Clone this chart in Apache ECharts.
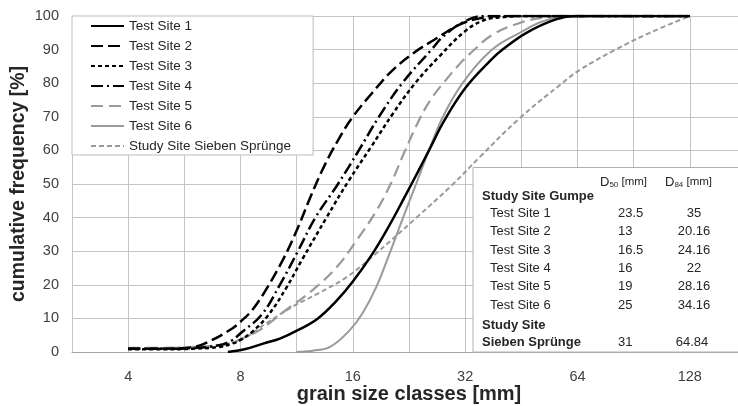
<!DOCTYPE html>
<html><head><meta charset="utf-8">
<script src="https://cdn.jsdelivr.net/npm/echarts@6/dist/echarts.min.js"></script>
<style>html,body{margin:0;padding:0;background:#fff}#c{width:738px;height:406px}</style>
</head><body><div id="c"></div>
<script>
// ---------- data ----------
const seriesNames = ['Test Site 1', 'Test Site 2', 'Test Site 3', 'Test Site 4', 'Test Site 5', 'Test Site 6', 'Study Site Sieben Sprünge'];

const site1X = [7.4, 8.2, 9.2, 10.2, 11.4, 12.9, 14.4, 16, 18, 20, 22, 24, 26, 28, 32, 37.6, 40.3, 46.7, 56, 63.5, 128];
const site1Y = [0, 0.8, 2.5, 4, 6.5, 10, 15, 21, 29, 37.5, 46, 54, 61.5, 68.5, 78.5, 87, 90, 95, 99, 100, 100];

const site2X = [4, 5, 6, 6.7, 7.6, 8, 8.6, 9.3, 10.4, 11.3, 12.2, 13.3, 14.6, 16, 18, 20.3, 23.3, 26.5, 31, 35, 40, 128];
const site2Y = [1, 1, 1.5, 3.5, 7, 9, 12.5, 18, 27.5, 36, 45, 54.5, 63, 70, 77, 83.5, 89, 93, 97.5, 99.3, 100, 100];

const site3X = [4, 5, 6, 7, 7.6, 8, 8.6, 9.5, 10.6, 11.7, 13.6, 15.6, 17.9, 20.5, 23.5, 27.3, 32, 36, 40, 45, 128];
const site3Y = [0.8, 0.8, 1, 1.5, 2.5, 3.6, 6, 11, 19, 27.5, 40, 51, 61, 71, 80, 88, 95.5, 98.8, 99.6, 100, 100];

const site4X = [4, 5, 6, 7, 7.6, 8, 9.1, 10.2, 11.4, 12.7, 14.6, 16.6, 18.8, 21.7, 26, 28, 32, 36, 128];
const site4Y = [1, 1, 1.2, 2, 3.5, 5.6, 11, 20, 30, 40, 50, 60, 70, 80, 90, 94, 98.5, 100, 100];

const site5X = [4, 5, 6, 7, 7.6, 8, 9, 10.6, 12.5, 14.5, 16.4, 18.5, 20.3, 21.9, 24.2, 26, 28.2, 30.5, 33.5, 38, 45, 52, 60, 128];
const site5Y = [1.2, 1.2, 1.5, 2, 2.7, 3.8, 6.5, 12.5, 18.5, 25.3, 33.3, 42, 50.5, 59, 69.5, 75.5, 80.5, 85, 89.5, 94.5, 98, 99.5, 100, 100];

const site6X = [11.3, 12.5, 13.9, 15.7, 17, 18.5, 20.1, 21.7, 23.7, 25.6, 27.9, 31.5, 37.8, 44.8, 52, 61, 128];
const site6Y = [0, 0.4, 1.5, 6.5, 11.6, 19.4, 29.5, 39.3, 50.3, 60, 70, 80, 90, 95, 98.5, 100, 100];

const siebenX = [4, 5, 6, 7, 8, 9.4, 11, 13, 15.4, 18.1, 23.7, 29.4, 35, 44.7, 58.2, 65, 81, 100, 128];
const siebenY = [1, 1.2, 1.5, 2, 3.6, 8.6, 13.4, 17.6, 22.3, 28.5, 40, 49.5, 58, 69.5, 80, 84, 90, 95, 100];

const xTickLabels = ['4', '8', '16', '32', '64', '128'];

const tableSites = ['Test Site 1', 'Test Site 2', 'Test Site 3', 'Test Site 4', 'Test Site 5', 'Test Site 6'];
const tableD50 = ['23.5', '13', '16.5', '16', '19', '25'];
const tableD84 = ['35', '20.16', '24.16', '22', '28.16', '34.16'];
const siebenD50 = '31';
const siebenD84 = '64.84';

// ---------- styles ----------
const FONT = '"Liberation Sans", Arial, sans-serif';
const TXT = '#262626';
const BLACK = '#000000';
const GREY = '#9a9a9a';
const styles = [
  { color: BLACK, width: 2.5, type: 'solid', z: 4 },
  { color: BLACK, width: 2.5, type: [12, 5], z: 4 },
  { color: BLACK, width: 2.5, type: [4, 3], z: 4 },
  { color: BLACK, width: 2.5, type: [12, 4, 2, 4], z: 4 },
  { color: GREY, width: 2.2, type: [12, 6], z: 3 },
  { color: GREY, width: 2, type: 'solid', z: 3 },
  { color: GREY, width: 2, type: [5, 3], z: 3 }
];
const xs = [site1X, site2X, site3X, site4X, site5X, site6X, siebenX];
const ys = [site1Y, site2Y, site3Y, site4Y, site5Y, site6Y, siebenY];

const series = seriesNames.map((name, k) => ({
  name,
  type: 'line',
  xAxisIndex: 0,
  yAxisIndex: 0,
  data: xs[k].map((x, i) => [x, ys[k][i]]),
  showSymbol: false,
  symbol: 'circle',
  smooth: 0.4,
  z: styles[k].z,
  lineStyle: { color: styles[k].color, width: styles[k].width, type: styles[k].type, cap: 'butt' },
  itemStyle: { color: styles[k].color },
  emphasis: { disabled: true }
}));

// ---------- table (graphic) ----------
const TL = 473, TT = 167.5, ROW0 = 213.5, ROWH = 18.35;
const gEls = [];
gEls.push({ type: 'rect', shape: { x: TL, y: TT, width: 280, height: 352 - TT }, style: { fill: '#fff', stroke: '#b0b0b0', lineWidth: 1 } });
const hdr = (x, sub) => ({
  type: 'text', x, y: 182,
  style: {
    text: '{d|D}{s|' + sub + '}{m| [mm]}',
    verticalAlign: 'middle', fill: TXT, font: '13px ' + FONT,
    rich: {
      d: { fontSize: 13, fontFamily: FONT, fill: TXT },
      s: { fontSize: 8, fontFamily: FONT, fill: TXT, padding: [6, 0, 0, 0] },
      m: { fontSize: 11.5, fontFamily: FONT, fill: TXT }
    }
  }
});
gEls.push(hdr(600, '50'));
gEls.push(hdr(665, '84'));
const txt = (x, y, text, opt) => ({
  type: 'text', x, y,
  style: Object.assign({ text, fill: TXT, font: '13px ' + FONT, verticalAlign: 'middle', align: 'left' }, opt || {})
});
gEls.push(txt(482, 196, 'Study Site Gumpe', { font: 'bold 13px ' + FONT }));
tableSites.forEach((s, i) => {
  const y = ROW0 + i * ROWH;
  gEls.push(txt(490, y, s));
  gEls.push(txt(618, y, tableD50[i]));
  gEls.push(txt(694, y, tableD84[i], { align: 'center' }));
});
gEls.push(txt(482, 325, 'Study Site', { font: 'bold 13px ' + FONT }));
gEls.push(txt(482, 342, 'Sieben Sprünge', { font: 'bold 13px ' + FONT }));
gEls.push(txt(618, 342, siebenD50));
gEls.push(txt(692, 342, siebenD84, { align: 'center' }));

// ---------- chart ----------
const chart = echarts.init(document.getElementById('c'), null, { renderer: 'canvas' });
chart.setOption({
  animation: false,
  backgroundColor: '#ffffff',
  textStyle: { fontFamily: FONT },
  grid: { left: 72, right: -8, top: 16, bottom: 54, containLabel: false, outerBoundsMode: 'none' },
  xAxis: [
    {
      type: 'log', logBase: 2, min: 2 * Math.SQRT2, max: 128 * Math.SQRT2,
      show: false
    },
    {
      type: 'value', min: 1.5, max: 7.5, interval: 0.5, position: 'bottom',
      name: 'grain size classes [mm]', nameLocation: 'middle', nameGap: 32, nameMoveOverlap: false,
      nameTextStyle: { fontSize: 20, fontWeight: 'bold', color: TXT, fontFamily: FONT },
      axisLine: { show: true, lineStyle: { color: '#a6a6a6', width: 1 } },
      axisTick: { show: false },
      axisLabel: {
        margin: 17, fontSize: 14.5, color: '#404040', fontFamily: FONT,
        formatter: v => { const l = xTickLabels.find(t => Math.abs(Math.log2(Number(t)) - v) < 1e-9); return l || ''; }
      },
      splitLine: { show: true, lineStyle: { color: '#c4c4c4', width: 1 } }
    }
  ],
  yAxis: {
    type: 'value', min: 0, max: 100, interval: 10,
    name: 'cumulative frequency [%]', nameLocation: 'middle', nameGap: 43, nameRotate: 90, nameMoveOverlap: false,
    nameTextStyle: { fontSize: 19.5, fontWeight: 'bold', color: TXT, fontFamily: FONT },
    axisLine: { show: true, lineStyle: { color: '#c4c4c4', width: 1 } },
    axisTick: { show: false },
    axisLabel: { margin: 13, fontSize: 14.5, color: '#404040', fontFamily: FONT },
    splitLine: { show: true, lineStyle: { color: '#c4c4c4', width: 1 } }
  },
  legend: {
    orient: 'vertical', left: 72, top: 16,
    itemWidth: 33, itemHeight: 14, itemGap: 6,
    padding: [3, 22, 2, 18],
    backgroundColor: '#ffffff', borderColor: '#bdbdbd', borderWidth: 1,
    textStyle: { fontSize: 13.5, color: TXT, fontFamily: FONT },
    itemStyle: { opacity: 0, borderWidth: 0 },
    selectedMode: false,
    data: seriesNames
  },
  graphic: { elements: gEls.map(e => Object.assign({ z: 100 }, e)) },
  series
});
</script>
</body></html>
